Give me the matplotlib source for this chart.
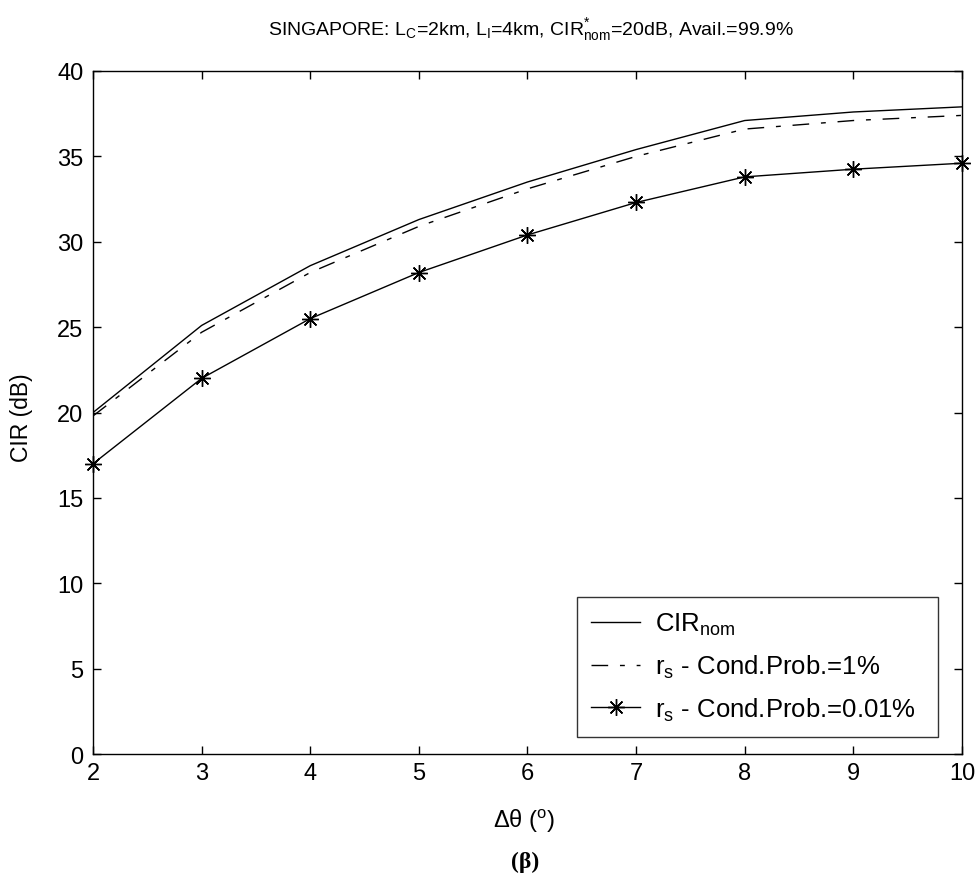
import matplotlib
matplotlib.use("Agg")
import matplotlib.pyplot as plt

# Angular separation (degrees)
delta_theta = [2, 3, 4, 5, 6, 7, 8, 9, 10]

# CIR values (dB)
cir_nom = [20.0, 25.1, 28.6, 31.3, 33.5, 35.4, 37.1, 37.6, 37.9]
cir_p1 = [19.8, 24.7, 28.2, 30.9, 33.1, 35.0, 36.6, 37.1, 37.4]
cir_p001 = [17.0, 22.0, 25.5, 28.2, 30.4, 32.3, 33.8, 34.25, 34.6]

x_ticks = [2, 3, 4, 5, 6, 7, 8, 9, 10]
y_ticks = [0, 5, 10, 15, 20, 25, 30, 35, 40]

plt.rcParams["font.family"] = ["Liberation Sans", "DejaVu Sans"]
plt.rcParams["mathtext.fontset"] = "custom"
plt.rcParams["mathtext.rm"] = "Liberation Sans"
plt.rcParams["mathtext.it"] = "Liberation Sans"

fig = plt.figure(figsize=(9.77, 8.78), dpi=100)
ax = fig.add_axes([0.0952, 0.140, 0.8894, 0.778])

ax.plot(delta_theta, cir_nom, color="black", lw=1.0, ls="-",
        label=r"CIR$_{\mathrm{nom}}$")
ax.plot(delta_theta, cir_p1, color="black", lw=1.0,
        dashes=(12, 8.5, 3.5, 8.5), label=r"r$_{\mathrm{s}}$ - Cond.Prob.=1%")
ax.plot(delta_theta, cir_p001, color="black", lw=1.0, ls="-",
        marker=(8, 2, 0), markersize=12, markeredgewidth=1.0,
        label=r"r$_{\mathrm{s}}$ - Cond.Prob.=0.01%", clip_on=False)

ax.set_xlim(2, 10)
ax.set_ylim(0, 40)
ax.set_xticks(x_ticks)
ax.set_yticks(y_ticks)
ax.tick_params(direction="in", length=6, width=1, top=True, right=True,
               labelsize=17)
ax.tick_params(axis="x", pad=6)
ax.tick_params(axis="y", pad=7)
for s in ax.spines.values():
    s.set_linewidth(1.0)

fig.text(0.5435, 1 - 35 / 878,
         r"SINGAPORE: L$_{\mathrm{C}}$=2km, L$_{\mathrm{I}}$=4km, "
         r"CIR$^{*}_{\mathrm{nom}}$=20dB, Avail.=99.9%",
         ha="center", va="baseline", fontsize=14)
fig.text(0.0215, 1 - 418 / 878, "CIR (dB)", rotation=90, ha="center",
         va="center", fontsize=16.5)
fig.text(0.536, 1 - 821 / 878, r"Δθ ($^{\mathrm{o}}$)", ha="center",
         va="center", fontsize=17)

leg = ax.legend(loc="upper left", bbox_to_anchor=(0.557, 0.032, 0.415, 0.198),
                mode="expand", fontsize=18.5, frameon=True, fancybox=False,
                edgecolor="black", handlelength=1.9, handletextpad=0.6,
                borderpad=0.55, labelspacing=0.6, borderaxespad=0)
leg.get_frame().set_linewidth(1.0)

fig.text(0.537, 1 - 862 / 878, "(β)", ha="center", va="center", fontsize=17,
         fontweight="bold", family=["Liberation Serif", "DejaVu Serif"])

fig.savefig("out.png", dpi=100)
